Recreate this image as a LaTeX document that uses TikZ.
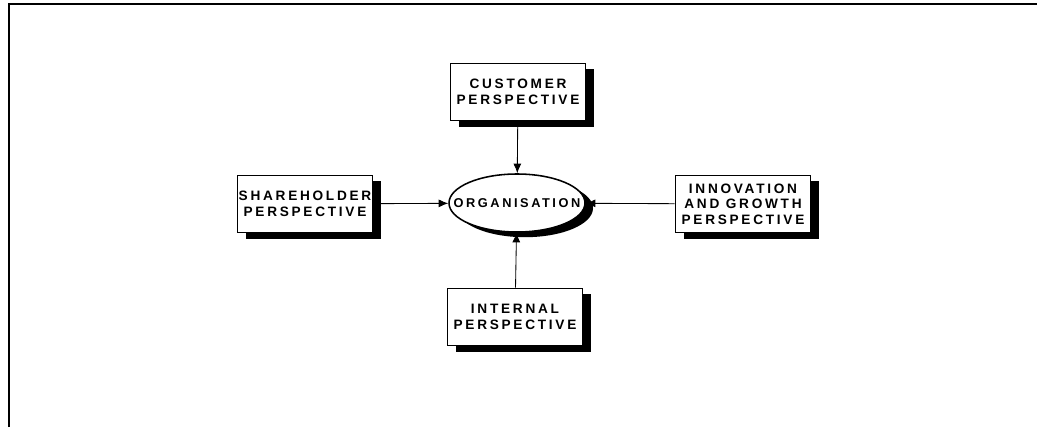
\documentclass[tikz,border=0pt]{standalone}
\usepackage{fontspec}
\usepackage{tikz}
\newfontfamily\perspfont{Liberation Sans}[LetterSpace=20]
\usetikzlibrary{shapes,arrows,positioning,calc,shadows,arrows.meta}

\tikzset{
    persp/.style={draw, line width=1.1pt, fill=white, align=center,
        minimum width=3.38cm, minimum height=1.43cm, inner sep=0pt,
        font=\perspfont\bfseries\fontsize{9.7}{11}\selectfont,
        drop shadow={shadow xshift=0.22cm, shadow yshift=-0.15cm, fill=black, opacity=1}},
    org/.style={ellipse, draw, line width=1.1pt, fill=white,
        minimum width=3.4cm, minimum height=1.45cm, inner sep=0pt,
        font=\perspfont\bfseries\fontsize{9.1}{11}\selectfont,
        drop shadow={shadow xshift=0.2cm, shadow yshift=-0.13cm, fill=black, opacity=1}},
    link/.style={line width=0.6pt, -{Latex[length=2.4mm, width=2mm]}}
}

\begin{document}
\begin{tikzpicture}
    \useasboundingbox (0,0) rectangle (25.925,10.675);
    % frame
    \draw[line width=1.2pt] (0.22,0) -- (0.22,10.575) -- (25.925,10.575);

    % centre and the four perspectives
    \node[org] (orga) at (12.925, 5.6) {\makebox[0pt]{ORGANISATION}};
    \node[persp] (cust) at (12.95, 8.375) {CUSTOMER\\PERSPECTIVE};
    \node[persp] (share) at (7.625, 5.575) {SHAREHOLDER\\PERSPECTIVE};
    \node[persp] (innov) at (18.575, 5.575) {INNOVATION\\AND GROWTH\\PERSPECTIVE};
    \node[persp] (intern) at (12.875, 2.75) {INTERNAL\\PERSPECTIVE};

    \draw[link] (cust) -- (orga);
    \draw[link] (share) -- (orga);
    \draw[link] (innov) -- (orga);
    \draw[link] (intern) -- (orga);
\end{tikzpicture}
\end{document}
